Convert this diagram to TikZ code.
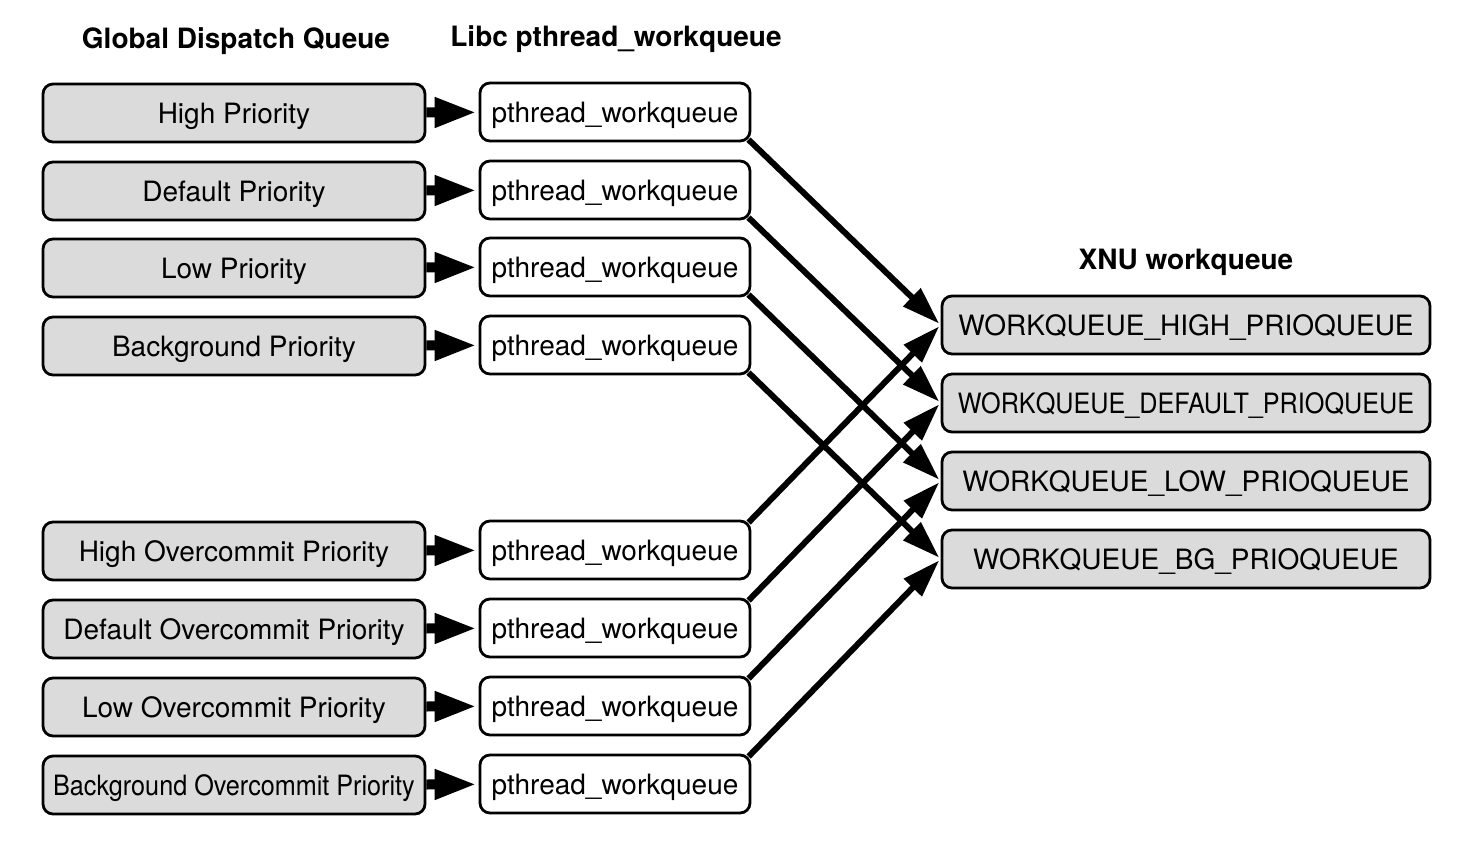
\documentclass[tikz,border=0pt]{standalone}
\usepackage{fontspec}
\setmainfont{TeX Gyre Heros}
\usetikzlibrary{arrows.meta}

\begin{document}
\begin{tikzpicture} [x=0.5pt, y=-0.5pt, font=\fontsize{14}{16}\selectfont]
    \tikzset{queue/.style={%
      draw,%
      rectangle,%
      rounded corners=5pt,%
      line width=1.4pt,%
      fill=black!14,%
      minimum height=29pt,%
      text height=10pt,%
      text depth=0pt,%
      inner sep=0pt}%
    };
\tikzset{gdq/.style={queue, minimum width=191pt}};
\tikzset{pwq/.style={queue, fill=white, minimum width=135pt}};
\tikzset{xnu/.style={queue, minimum width=244pt}};
\tikzset{header/.style={font=\fontsize{14}{16}\selectfont\bfseries}};
\tikzset{feed/.style={line width=5pt, -{Triangle[length=21pt, width=14pt]}, shorten >=1pt}};
\tikzset{map/.style={line width=3pt, -{Triangle[length=19pt, width=12pt]}, shorten >=1pt, shorten <=-2pt}};

\useasboundingbox (0,0) rectangle (1464,846);

%column titles
\node[header] (gdqTitle) at (236, 41) {Global Dispatch Queue};
\node[header] (pwqTitle) at (616, 39) {Libc pthread\_workqueue};
\node[header] (xnuTitle) at (1186, 262) {XNU workqueue};

%global dispatch queues
\node[gdq] (gHigh) at (234, 113) {High Priority};
\node[gdq] (gDefault) at (234, 191) {Default Priority};
\node[gdq] (gLow) at (234, 268) {Low Priority};
\node[gdq] (gBg) at (234, 346) {Background Priority};
\node[gdq] (gHighOC) at (234, 551) {High Overcommit Priority};
\node[gdq] (gDefaultOC) at (234, 629) {Default Overcommit Priority};
\node[gdq] (gLowOC) at (234, 707) {Low Overcommit Priority};
\node[gdq] (gBgOC) at (234, 785) {\scalebox{0.9}[1]{Background Overcommit Priority}};

%pthread workqueues
\node[pwq] (pHigh) at (615, 112) {pthread\_workqueue};
\node[pwq] (pDefault) at (615, 190) {pthread\_workqueue};
\node[pwq] (pLow) at (615, 267) {pthread\_workqueue};
\node[pwq] (pBg) at (615, 345) {pthread\_workqueue};
\node[pwq] (pHighOC) at (615, 550) {pthread\_workqueue};
\node[pwq] (pDefaultOC) at (615, 628) {pthread\_workqueue};
\node[pwq] (pLowOC) at (615, 706) {pthread\_workqueue};
\node[pwq] (pBgOC) at (615, 784) {pthread\_workqueue};

%xnu workqueues
\node[xnu] (xHigh) at (1186, 325) {WORKQUEUE\_HIGH\_PRIOQUEUE};
\node[xnu] (xDefault) at (1186, 403) {\scalebox{0.9}[1]{WORKQUEUE\_DEFAULT\_PRIOQUEUE}};
\node[xnu] (xLow) at (1186, 481) {WORKQUEUE\_LOW\_PRIOQUEUE};
\node[xnu] (xBg) at (1186, 559) {WORKQUEUE\_BG\_PRIOQUEUE};

%dispatch queue to pthread workqueue
\foreach \q in {High, Default, Low, Bg, HighOC, DefaultOC, LowOC, BgOC}
    \draw [feed] (g\q) -- (p\q);

%pthread workqueue to xnu workqueue
\foreach \q in {High, Default, Low, Bg} {
    \draw [map] (p\q.south east) -- (x\q.west);
    \draw [map] (p\q OC.north east) -- (x\q.west);
}

\end{tikzpicture}
\end{document}
